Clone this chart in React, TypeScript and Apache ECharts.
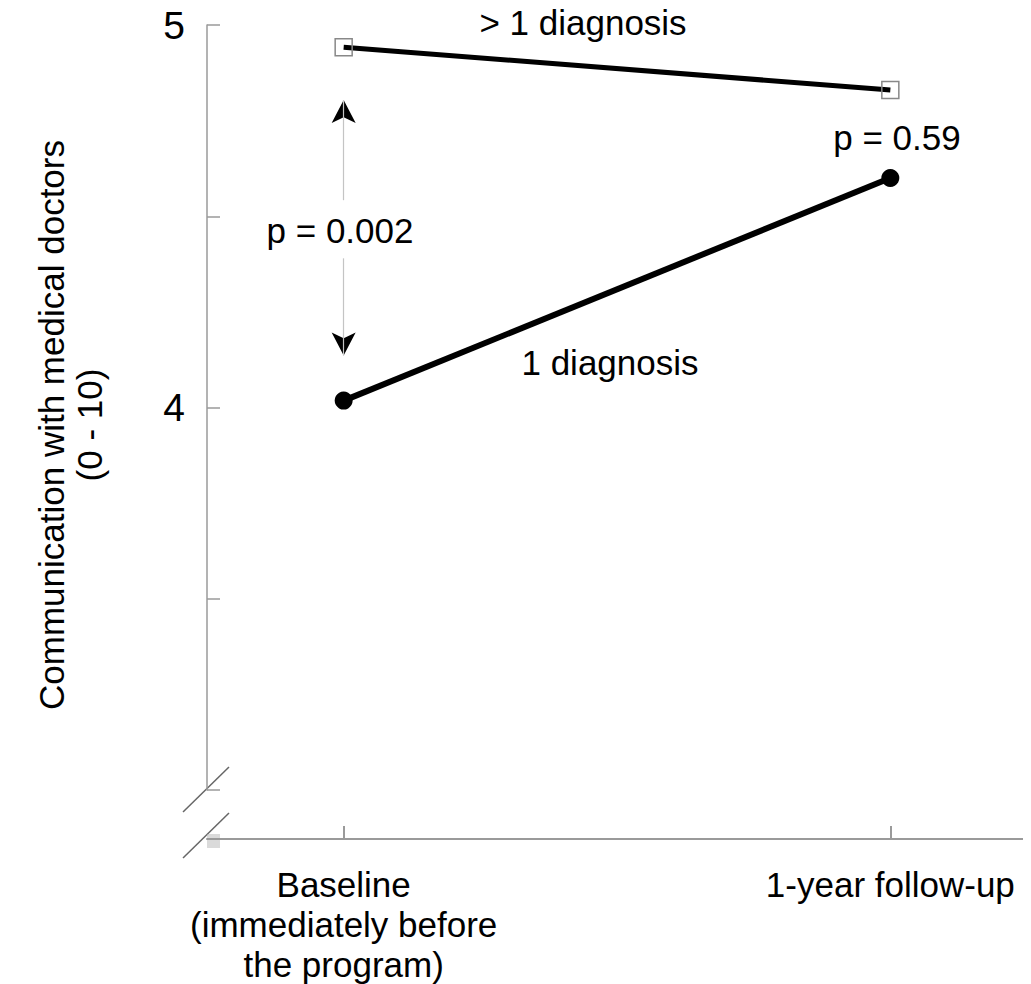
import React, { useEffect, useRef } from "react";
import * as echarts from "echarts";

const timePoints = [0, 1];
const timeLabels = ["Baseline\n(immediately before\nthe program)", "1-year follow-up"];
const yLabelled = [4, 5];
const multiDiag = [4.942, 4.83];
const singleDiag = [4.018, 4.6];
const arrowUp = [4.542, 4.804];
const arrowDown = [4.39, 4.136];

const FONT = "Liberation Sans, Arial, sans-serif";

export default function App() {
  const ref = useRef<HTMLDivElement>(null);
  useEffect(() => {
    const chart = echarts.init(ref.current!, null, { renderer: "svg" });
    const gray = "#9a9a9a";
    const hatch = [0, 2, 4, 6, 8, 10, 12].map((d) => ({
      type: "line",
      shape: { x1: 207, y1: 835 + d, x2: 220, y2: 835 + d },
      style: { stroke: "#b5b5b5", lineWidth: 1 },
    }));
    chart.setOption({
      animation: false,
      backgroundColor: "#fff",
      textStyle: { fontFamily: FONT },
      grid: [
        { left: 207, top: 25, width: 820, height: 765 },
        { left: 207, top: 25, width: 820, height: 815 },
      ],
      xAxis: [
        { type: "value", gridIndex: 0, min: -0.25, max: 1.25, show: false },
        {
          type: "value",
          gridIndex: 1,
          min: -0.25,
          max: 1.25,
          splitLine: { show: false },
          axisLine: { onZero: false, lineStyle: { color: gray, width: 2 } },
          axisTick: { inside: true, length: 13, lineStyle: { color: gray, width: 2 }, customValues: timePoints },
          axisLabel: {
            customValues: timePoints,
            formatter: (v: number) => timeLabels[timePoints.indexOf(v)] ?? "",
            fontSize: 35,
            lineHeight: 40,
            color: "#000",
            fontFamily: FONT,
            margin: 25,
          },
        },
      ],
      yAxis: [
        {
          type: "value",
          gridIndex: 0,
          min: 3,
          max: 5,
          interval: 0.5,
          splitLine: { show: false },
          axisLine: { show: true, onZero: false, lineStyle: { color: gray, width: 1.5 } },
          axisTick: { show: true, inside: true, length: 13, lineStyle: { color: gray, width: 1.5 } },
          axisLabel: {
            formatter: (v: number) => (yLabelled.includes(v) ? String(v) : ""),
            fontSize: 39,
            color: "#000",
            fontFamily: FONT,
            margin: 22,
          },
        },
        { type: "value", gridIndex: 1, min: 0, max: 1, show: false },
      ],
      graphic: [
        {
          type: "text",
          x: 70,
          y: 425,
          rotation: Math.PI / 2,
          style: {
            text: "Communication with medical doctors\n(0 - 10)",
            fontSize: 35,
            lineHeight: 38,
            fontFamily: FONT,
            fill: "#000",
            align: "center",
            verticalAlign: "middle",
          },
        },
        { type: "text", x: 583, y: 22, style: { text: "> 1 diagnosis", fontSize: 35, fontFamily: FONT, fill: "#000", align: "center", verticalAlign: "middle" } },
        { type: "text", x: 897, y: 137, style: { text: "p = 0.59", fontSize: 35, fontFamily: FONT, fill: "#000", align: "center", verticalAlign: "middle" } },
        { type: "text", x: 340, y: 230, style: { text: "p = 0.002", fontSize: 35, fontFamily: FONT, fill: "#000", align: "center", verticalAlign: "middle" } },
        { type: "text", x: 610, y: 362, style: { text: "1 diagnosis", fontSize: 35, fontFamily: FONT, fill: "#000", align: "center", verticalAlign: "middle" } },
        { type: "line", shape: { x1: 183, y1: 812, x2: 229, y2: 767 }, style: { stroke: "#666", lineWidth: 1.5 } },
        { type: "line", shape: { x1: 183, y1: 858, x2: 229, y2: 813 }, style: { stroke: "#666", lineWidth: 1.5 } },
        ...hatch,
      ],
      series: [
        {
          type: "line",
          name: "> 1 diagnosis",
          xAxisIndex: 0,
          yAxisIndex: 0,
          data: timePoints.map((t, i) => [t, multiDiag[i]]),
          lineStyle: { color: "#000", width: 5 },
          symbol: "rect",
          symbolSize: 17,
          itemStyle: { color: "rgba(255,255,255,0)", borderColor: "#888", borderWidth: 1.5 },
          z: 3,
        },
        {
          type: "line",
          name: "1 diagnosis",
          xAxisIndex: 0,
          yAxisIndex: 0,
          data: timePoints.map((t, i) => [t, singleDiag[i]]),
          lineStyle: { color: "#000", width: 6 },
          symbol: "circle",
          symbolSize: 18,
          itemStyle: { color: "#000" },
          z: 3,
        },
        {
          type: "line",
          xAxisIndex: 0,
          yAxisIndex: 0,
          data: [],
          markLine: {
            silent: true,
            symbol: ["none", "none"],
            label: { show: false },
            lineStyle: { color: "#c4c4c4", width: 1.2, type: "solid" },
            data: [
              [{ coord: [timePoints[0], arrowUp[0]] }, { coord: [timePoints[0], arrowUp[1]] }],
              [{ coord: [timePoints[0], arrowDown[0]] }, { coord: [timePoints[0], arrowDown[1]] }],
            ],
          },
        },
        {
          type: "scatter",
          xAxisIndex: 0,
          yAxisIndex: 0,
          symbol: "arrow",
          symbolSize: [18, 23],
          itemStyle: { color: "#000", opacity: 1 },
          data: [
            { value: [timePoints[0], arrowUp[1]], symbolRotate: 0 },
            { value: [timePoints[0], arrowDown[1]], symbolRotate: 180 },
          ],
          z: 4,
        },
      ],
    });
    return () => chart.dispose();
  }, []);
  return <div ref={ref} style={{ width: 1031, height: 984, marginLeft: -8, marginTop: -8 }} />;
}
